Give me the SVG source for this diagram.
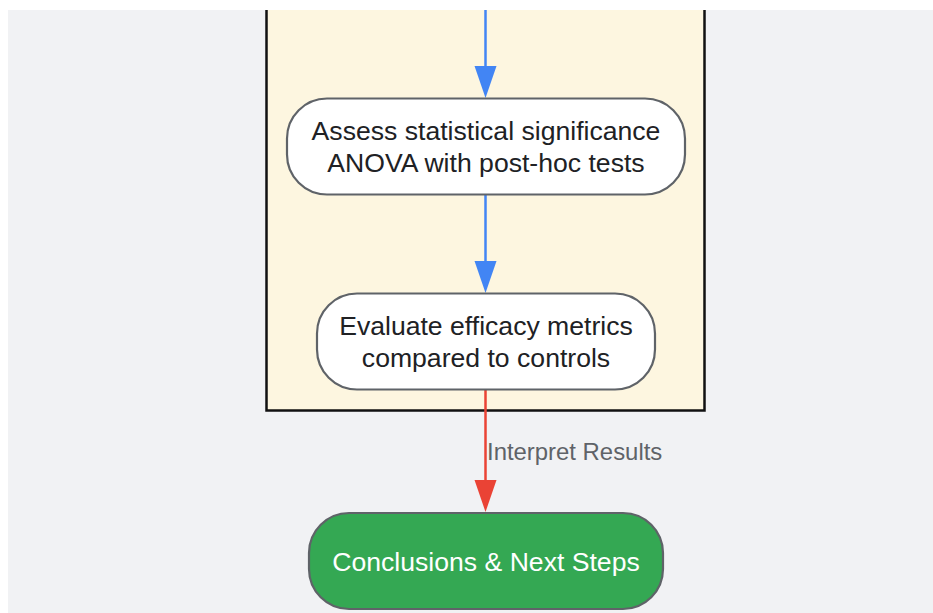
<svg xmlns="http://www.w3.org/2000/svg" width="933" height="613" viewBox="0 0 933 613">
<style>
.node{fill:#ffffff;stroke:#5f6368;stroke-width:2.2}
.t{font-family:"Liberation Sans",Arial,sans-serif;font-size:26.6px;fill:#202124;text-anchor:middle}
.lbl{font-family:"Liberation Sans",Arial,sans-serif;font-size:23.9px;fill:#5f6368}
</style>
<rect x="0" y="0" width="933" height="613" fill="#ffffff"/>
<rect x="8" y="10" width="925" height="603" fill="#f1f2f4"/>
<g id="cluster">
<rect x="266.5" y="-10" width="438" height="420.5" fill="#fdf6e0" stroke="#111111" stroke-width="2.5"/>
</g>
<rect x="0" y="0" width="933" height="10" fill="#ffffff"/>
<g id="connectors">
<line x1="485.5" y1="10" x2="485.5" y2="70" stroke="#4285f4" stroke-width="2.5"/>
<path d="M474.5,66 L496.5,66 L485.5,98 Z" fill="#4285f4"/>
<line x1="485.5" y1="195" x2="485.5" y2="265" stroke="#4285f4" stroke-width="2.5"/>
<path d="M474.5,261 L496.5,261 L485.5,293 Z" fill="#4285f4"/>
<line x1="485.5" y1="390" x2="485.5" y2="484" stroke="#ea4335" stroke-width="2.5"/>
<path d="M474.5,480 L496.5,480 L485.5,512 Z" fill="#ea4335"/>
<text class="lbl" x="487" y="460">Interpret Results</text>
</g>
<g id="node-assess">
<rect class="node" x="287" y="98.5" width="398" height="96" rx="40" ry="40"/>
<text class="t" x="486" y="140">Assess statistical significance</text>
<text class="t" x="486" y="172">ANOVA with post-hoc tests</text>
</g>
<g id="node-evaluate">
<rect class="node" x="317" y="293.5" width="338" height="96" rx="40" ry="40"/>
<text class="t" x="486" y="335">Evaluate efficacy metrics</text>
<text class="t" x="486" y="367">compared to controls</text>
</g>
<g id="node-conclusions">
<rect x="309" y="513" width="354" height="96" rx="40" ry="40" fill="#34a853" stroke="#5f6368" stroke-width="2.2"/>
<text class="t" x="486" y="571" style="fill:#ffffff">Conclusions &amp; Next Steps</text>
</g>
</svg>
